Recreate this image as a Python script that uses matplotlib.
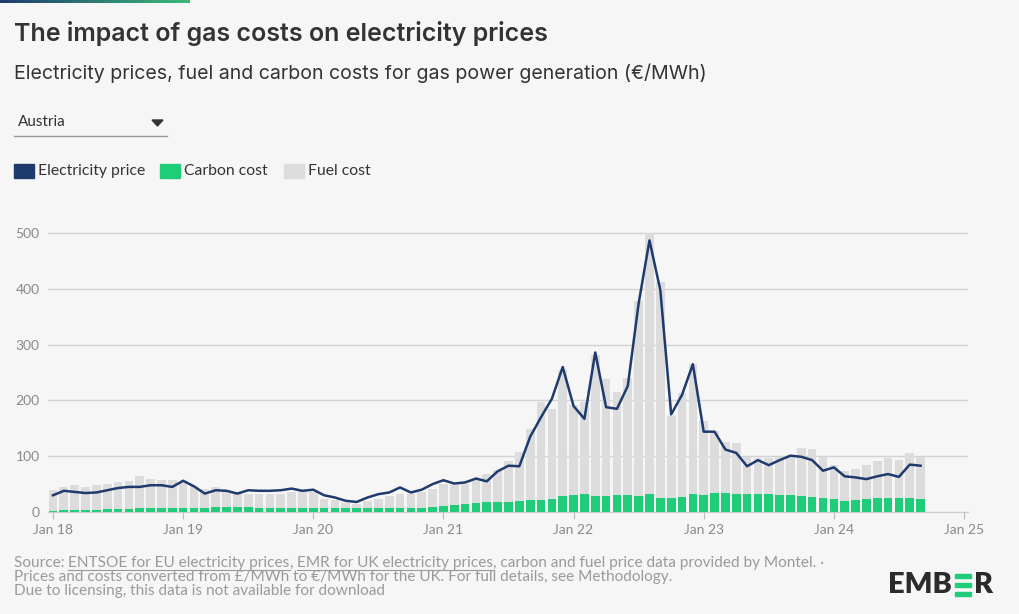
import matplotlib.pyplot as plt
from matplotlib.patches import Rectangle, Polygon
import numpy as np

# monthly data, Jan 2018 - Sep 2024 (EUR/MWh)
carbon_cost = [2.5, 3, 4, 4, 4, 5, 5, 6, 7, 7, 7, 7,
               8, 7, 7, 9, 9, 9, 9, 8, 8, 8, 8, 8,
               8, 8, 7, 7, 7, 8, 8, 8, 8, 8, 8, 9,
               11, 12, 14, 16, 18, 18, 18, 20, 21, 21, 23, 29,
               30, 33, 28, 29, 30, 30, 29, 32, 26, 26, 27, 32,
               30, 34, 34, 33, 32, 32, 32, 30, 30, 29, 27, 26,
               24, 20, 21, 23, 26, 26, 26, 26, 23]
fuel_cost = [37.5, 42, 45, 41, 45, 46, 48, 50, 57, 53, 50, 50,
             46, 40, 35, 35, 31, 26, 24, 24, 25, 24, 28, 29,
             27, 16, 14, 10, 8, 12, 16, 21, 25, 25, 28, 33,
             40, 37, 37, 44, 51, 57, 73, 88, 127, 177, 162, 226,
             162, 165, 254, 209, 186, 211, 350, 468, 387, 146, 186, 233,
             133, 111, 92, 91, 67, 64, 64, 69, 72, 86, 86, 73,
             61, 53, 57, 61, 65, 71, 68, 80, 76]
electricity_price = [30, 38, 36, 34, 35, 39, 43, 45, 45, 48, 48, 45,
                     56, 46, 33, 39, 38, 33, 39, 38, 38, 39, 42, 38,
                     40, 30, 26, 20, 18, 26, 32, 35, 44, 35, 40, 50,
                     57, 51, 53, 60, 55, 73, 83, 82, 135, 170, 203, 260,
                     190, 167, 286, 188, 185, 226, 374, 487, 398, 175, 210, 265,
                     144, 144, 112, 106, 82, 93, 84, 93, 101, 99, 93, 74,
                     80, 64, 62, 59, 64, 68, 63, 85, 83]
year_labels = ['Jan 18', 'Jan 19', 'Jan 20', 'Jan 21', 'Jan 22', 'Jan 23', 'Jan 24', 'Jan 25']
y_ticks = [0, 100, 200, 300, 400, 500]

BG = '#f6f6f6'
NAVY = '#1f3b6d'
GREEN = '#1fcc78'
GREY = '#dcdcdc'
W, H = 1020, 614

plt.rcParams['font.family'] = ['Lato', 'DejaVu Sans']
HEAD = ['Inter', 'DejaVu Sans']

fig = plt.figure(figsize=(W / 100, H / 100), dpi=100, facecolor=BG)


def fx(x):
    return x / W


def fy(y):
    return 1 - y / H


# gradient strip top-left
gax = fig.add_axes([0, fy(3), fx(190), 3 / H])
gax.imshow(np.linspace(0, 1, 200).reshape(1, -1), aspect='auto',
           cmap=plt.matplotlib.colors.LinearSegmentedColormap.from_list('g', [NAVY, '#3dbb78']))
gax.axis('off')

fig.text(fx(14), fy(34), 'The impact of gas costs on electricity prices', family=HEAD,
         fontsize=18, fontweight='semibold', color='#333333', va='center')
fig.text(fx(14), fy(73), 'Electricity prices, fuel and carbon costs for gas power generation (€/MWh)',
         family=HEAD, fontsize=14.1, color='#333333', va='center')

# dropdown
fig.text(fx(18), fy(122), 'Austria', fontsize=11, color='#333333', va='center')
fig.lines.append(plt.Line2D([fx(14), fx(167)], [fy(136), fy(136)], color='#999999', lw=1,
                            transform=fig.transFigure))
fig.patches.append(Polygon([[fx(152), fy(120)], [fx(163), fy(120)], [fx(157.5), fy(126)]],
                           closed=True, color='#333333', transform=fig.transFigure))

# legend
for x0, col, lab in [(14, NAVY, 'Electricity price'), (160, GREEN, 'Carbon cost'), (284, GREY, 'Fuel cost')]:
    fig.patches.append(Rectangle((fx(x0), fy(178)), fx(20), 14 / H, color=col, transform=fig.transFigure))
    fig.text(fx(x0 + 24), fy(171), lab, fontsize=11.3, color='#333333', va='center')

# main axes
ax = fig.add_axes([fx(48), fy(512), fx(968 - 48), (512 - 222) / H])
ax.set_facecolor(BG)
months = np.arange(len(carbon_cost))
ax.bar(months, carbon_cost, width=0.8, color=GREEN, zorder=2)
ax.bar(months, fuel_cost, width=0.8, bottom=carbon_cost, color=GREY, zorder=2)
ax.plot(months, electricity_price, color=NAVY, lw=1.8, zorder=3)

ax.set_xlim(-0.46, 84.37)
ax.set_ylim(0, 520)
ax.set_yticks(y_ticks)
ax.set_yticklabels([str(v) for v in y_ticks])
ax.set_xticks(np.arange(0, 85, 12))
ax.set_xticklabels(year_labels)
ax.grid(axis='y', color='#d2d2d2', lw=1, zorder=0)
for s in ['top', 'right', 'left']:
    ax.spines[s].set_visible(False)
ax.spines['bottom'].set_color('#cccccc')
ax.tick_params(axis='y', length=0, pad=6, labelsize=10, labelcolor='#8a8a8a')
ax.tick_params(axis='x', length=5, color='#bbbbbb', pad=4, labelsize=10, labelcolor='#8a8a8a')

# footer
renderer = fig.canvas.get_renderer()
foot = [[('Source: ', False), ('ENTSOE for EU electricity prices', True), (', ', False),
         ('EMR for UK electricity prices', True),
         (', carbon and fuel price data provided by Montel. \u00b7', False)],
        [('Prices and costs converted from £/MWh to €/MWh for the UK. For full details, see Methodology.', False)],
        [('Due to licensing, this data is not available for download', False)]]
for i, line in enumerate(foot):
    ypix = 563 + 14 * i
    xpix = 14
    for txt, under in line:
        t = fig.text(fx(xpix), fy(ypix), txt, fontsize=11.1, color='#9a9a9a', va='center')
        bb = t.get_window_extent(renderer)
        if under:
            fig.lines.append(plt.Line2D([fx(xpix), fx(xpix + bb.width)], [fy(ypix + 7), fy(ypix + 7)],
                                        color='#9a9a9a', lw=0.8, transform=fig.transFigure))
        xpix += bb.width

# logo
t = fig.text(fx(888), fy(585), 'EMB', fontsize=21, fontweight='heavy', color='#2b2b2b', va='center')
bb = t.get_window_extent(renderer)
ex = 888 + bb.width + 3
for k in range(3):
    fig.patches.append(Rectangle((fx(ex), fy(574 + k * 9 + 4)), fx(16), 4 / H, color=GREEN,
                                 transform=fig.transFigure))
fig.text(fx(ex + 19), fy(585), 'R', fontsize=21, fontweight='heavy', color='#2b2b2b', va='center')

fig.savefig('out.png', dpi=100, facecolor=BG)
